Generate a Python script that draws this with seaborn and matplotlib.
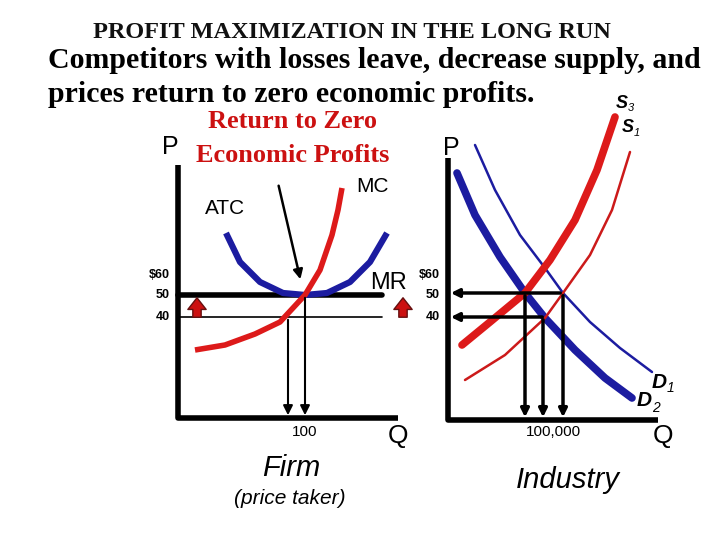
import numpy as np
import matplotlib
matplotlib.use("Agg")
import matplotlib.pyplot as plt
import seaborn as sns

sns.set_style("white")
plt.rcParams["text.color"] = "black"

# firm curves (screen coords)
atc_x = [226, 240, 260, 283, 305, 327, 350, 370, 387]
atc_y = [233, 262, 282, 293, 295, 293, 282, 262, 233]
mc_x = [195, 225, 255, 280, 305, 320, 332, 338, 342]
mc_y = [350, 345, 334, 322, 295, 270, 235, 210, 188]
# industry curves
d2_x = [457, 475, 500, 525, 545, 575, 605, 632]
d2_y = [173, 215, 257, 293, 318, 350, 378, 398]
d1_x = [475, 495, 520, 545, 563, 590, 620, 652]
d1_y = [145, 190, 235, 268, 293, 322, 348, 372]
s3_x = [462, 490, 525, 550, 575, 597, 615]
s3_y = [345, 322, 293, 260, 220, 170, 117]
s1_x = [465, 505, 545, 563, 590, 612, 630]
s1_y = [380, 355, 318, 293, 255, 210, 152]
price_labels = ["$60", "50", "40"]
price_y = [275, 295, 317]

fig = plt.figure(figsize=(7.2, 5.4), dpi=100)
ax = fig.add_axes([0, 0, 1, 1])
ax.set_xlim(0, 720)
ax.set_ylim(540, 0)
ax.axis("off")

serif = "Liberation Serif"
sans = "Liberation Sans"

ax.text(352, 33, "PROFIT MAXIMIZATION IN THE LONG RUN", ha="center", va="center",
        family=serif, fontweight="bold", fontsize=17.5, color="#111")
ax.text(48, 60, "Competitors with losses leave, decrease supply, and", va="center",
        family=serif, fontweight="bold", fontsize=21.5)
ax.text(48, 95, "prices return to zero economic profits.", va="center",
        family=serif, fontweight="bold", fontsize=21.5)
ax.text(293, 122, "Return to Zero", ha="center", va="center", family=serif,
        fontweight="bold", fontsize=19, color="#cc1111")
ax.text(293, 155, "Economic Profits", ha="center", va="center", family=serif,
        fontweight="bold", fontsize=19, color="#cc1111")
ax.text(170, 147, "P", ha="center", va="center", family=sans, fontsize=18)
ax.text(451, 148, "P", ha="center", va="center", family=sans, fontsize=18)

# firm axes
ax.plot([178, 178, 398], [165, 418, 418], color="black", lw=4, solid_capstyle="butt")
ax.plot([178, 382], [295, 295], color="black", lw=4)
ax.plot([178, 382], [317, 317], color="black", lw=1.2)
ax.plot(atc_x, atc_y, color="#1c1ca0", lw=4.5, solid_capstyle="butt")
ax.plot(mc_x, mc_y, color="#dd1a1a", lw=4, solid_capstyle="butt")
for xq, y0 in [(288, 317), (305, 295)]:
    ax.annotate("", xy=(xq, 418), xytext=(xq, y0),
                arrowprops=dict(arrowstyle="-|>", color="black", lw=1.5, mutation_scale=14))
ax.annotate("", xy=(301, 282), xytext=(278, 183),
            arrowprops=dict(arrowstyle="-|>", color="black", lw=1.8, mutation_scale=14))
for xa in [197, 403]:
    ax.annotate("", xy=(xa, 295), xytext=(xa, 320),
                arrowprops=dict(arrowstyle="simple,head_width=1.1,head_length=0.7,tail_width=0.5",
                                color="#cc1111", ec="#661010", mutation_scale=12))
for lab, y in zip(price_labels, price_y):
    ax.text(170, y, lab, ha="right", va="center", family=sans, fontweight="bold", fontsize=9)
ax.text(370, 283, "MR", ha="left", va="center", family=sans, fontsize=17)
ax.text(372, 186, "MC", ha="center", va="center", family=sans, fontsize=15)
ax.text(225, 208, "ATC", ha="center", va="center", family=sans, fontsize=15)
ax.text(305, 432, "100", ha="center", va="center", family=sans, fontsize=11)
ax.text(398, 436, "Q", ha="center", va="center", family=sans, fontsize=19)
ax.text(291, 468, "Firm", ha="center", va="center", family=sans, style="italic", fontsize=21)
ax.text(290, 498, "(price taker)", ha="center", va="center", family=sans, style="italic", fontsize=15)

# industry
ax.plot([448, 448, 658], [158, 420, 420], color="black", lw=4, solid_capstyle="butt")
ax.plot(d1_x, d1_y, color="#1c1ca0", lw=1.8)
ax.plot(d2_x, d2_y, color="#1c1ca0", lw=5.5)
ax.plot(s1_x, s1_y, color="#cc1a1a", lw=1.8)
ax.plot(s3_x, s3_y, color="#dd1a1a", lw=5.5)
for x0, y in [(563, 293), (545, 317)]:
    ax.annotate("", xy=(448, y), xytext=(x0, y),
                arrowprops=dict(arrowstyle="-|>", color="black", lw=2.5, mutation_scale=12))
for xq, y0 in [(525, 293), (543, 317), (563, 293)]:
    ax.annotate("", xy=(xq, 420), xytext=(xq, y0),
                arrowprops=dict(arrowstyle="-|>", color="black", lw=2.5, mutation_scale=12))
for lab, y in zip(price_labels, price_y):
    ax.text(440, y, lab, ha="right", va="center", family=sans, fontweight="bold", fontsize=9)
ax.text(616, 103, "S", family=sans, style="italic", fontweight="bold", fontsize=13, va="center")
ax.text(628, 108, "3", family=sans, style="italic", fontsize=8, va="center")
ax.text(622, 128, "S", family=sans, style="italic", fontweight="bold", fontsize=13, va="center")
ax.text(634, 133, "1", family=sans, style="italic", fontsize=8, va="center")
ax.text(652, 382, "D", family=sans, style="italic", fontweight="bold", fontsize=15, va="center")
ax.text(667, 388, "1", family=sans, style="italic", fontsize=10, va="center")
ax.text(637, 400, "D", family=sans, style="italic", fontweight="bold", fontsize=15, va="center")
ax.text(652, 408, "2", family=sans, style="italic", fontsize=10, va="center")
ax.text(553, 432, "100,000", ha="center", va="center", family=sans, fontsize=11)
ax.text(663, 436, "Q", ha="center", va="center", family=sans, fontsize=19)
ax.text(568, 480, "Industry", ha="center", va="center", family=sans, style="italic", fontsize=21)

fig.savefig("out.png", dpi=100)
